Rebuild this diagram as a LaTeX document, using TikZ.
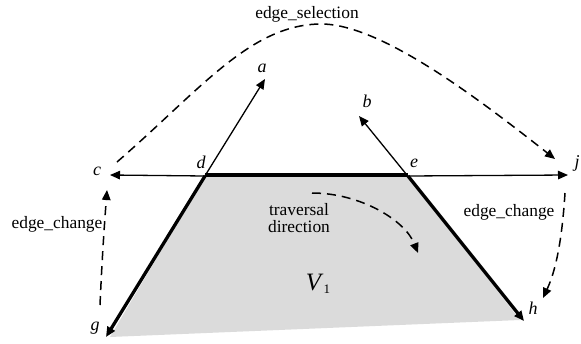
\documentclass[tikz,border=0pt]{standalone}
\usepackage{fontspec}
\setmainfont{Liberation Serif}
\usetikzlibrary{arrows.meta}
\begin{document}
\begin{tikzpicture}[x=1pt,y=-1pt,
  lbl/.style={inner sep=0pt,font=\fontsize{17.4}{16.5}\selectfont},
  vlbl/.style={inner sep=0pt,font=\fontsize{18}{16}\selectfont\itshape},
  thin/.style={line width=1.3pt,-{Triangle[length=10pt,width=8.5pt]}},
  thick/.style={line width=3.8pt},
  thickarr/.style={line width=3.3pt,-{Triangle[length=10pt,width=8.5pt]}},
  dsh/.style={line width=1.5pt,dash pattern=on 9pt off 6pt,-{Triangle[length=10pt,width=8.5pt]}}]
\useasboundingbox (0,0) rectangle (581,343);
% points
\coordinate (d) at (205,176);
\coordinate (e) at (408,176);
\coordinate (g) at (106,337);
\coordinate (h) at (524,321);
\coordinate (gb) at (110,337);
\coordinate (hb) at (520,320);
\coordinate (cc) at (110,175);
\coordinate (jj) at (568,175);
\coordinate (aa) at (265,79);
\coordinate (a0) at (203,179);
\coordinate (bb) at (359,116);
\coordinate (b0) at (411,180);
% fill
\fill[gray!28] (d) -- (e) -- (hb) -- (gb) -- cycle;
% thin lines
\draw[thin] (d) -- (cc);
\draw[thin] (e) -- (jj);
\draw[line width=1.3pt] (d) -- (e);
\draw[thin] (a0) -- (aa);
\draw[thin] (b0) -- (bb);
% thick
\draw[thick] ([yshift=1pt]d) -- ([yshift=1pt]e);
\draw[thickarr] (d) -- (g);
\draw[thickarr] (e) -- (h);
% dashed
\coordinate (s0) at (117,162);
\coordinate (s1) at (320,24);
\coordinate (s2) at (555,159);
\draw[dsh] (s0) .. controls (200,90) and (250,25) .. (s1) .. controls (380,23) and (480,100) .. (s2);
\coordinate (l0) at (100,305);
\coordinate (l1) at (107,190);
\draw[dsh] (l0) .. controls (102,260) and (104,230) .. (l1);
\coordinate (r0) at (565,193);
\coordinate (r1) at (543,298);
\draw[dsh] (r0) .. controls (562,240) and (556,270) .. (r1);
\coordinate (t0) at (312,193);
\coordinate (t1) at (418,253);
\draw[dsh] (t0) .. controls (360,193) and (405,220) .. (t1);
% labels
\node[vlbl] (la) at (262,68) {a};
\node[vlbl] (lb) at (367,101) {b};
\node[vlbl] (lc) at (97,171) {c};
\node[vlbl] (ld) at (201,162) {d};
\node[vlbl] (le) at (414,163) {e};
\node[vlbl] (lj) at (577,163) {j};
\node[vlbl] (lg) at (95,328) {g};
\node[vlbl] (lh) at (533,308) {h};
\node[lbl] (sel) at (307,14) {edge\_selection};
\node[lbl] (ch1) at (57,224) {edge\_change};
\node[lbl] (ch2) at (509,212) {edge\_change};
\node[lbl,align=center] (trav) at (299,218) {traversal\\direction};
\node[inner sep=0pt,font=\fontsize{25}{25}\selectfont] (v1) at (318,284) {\textit{V}\raisebox{-3pt}{\fontsize{13}{13}\selectfont 1}};
\end{tikzpicture}
\end{document}
